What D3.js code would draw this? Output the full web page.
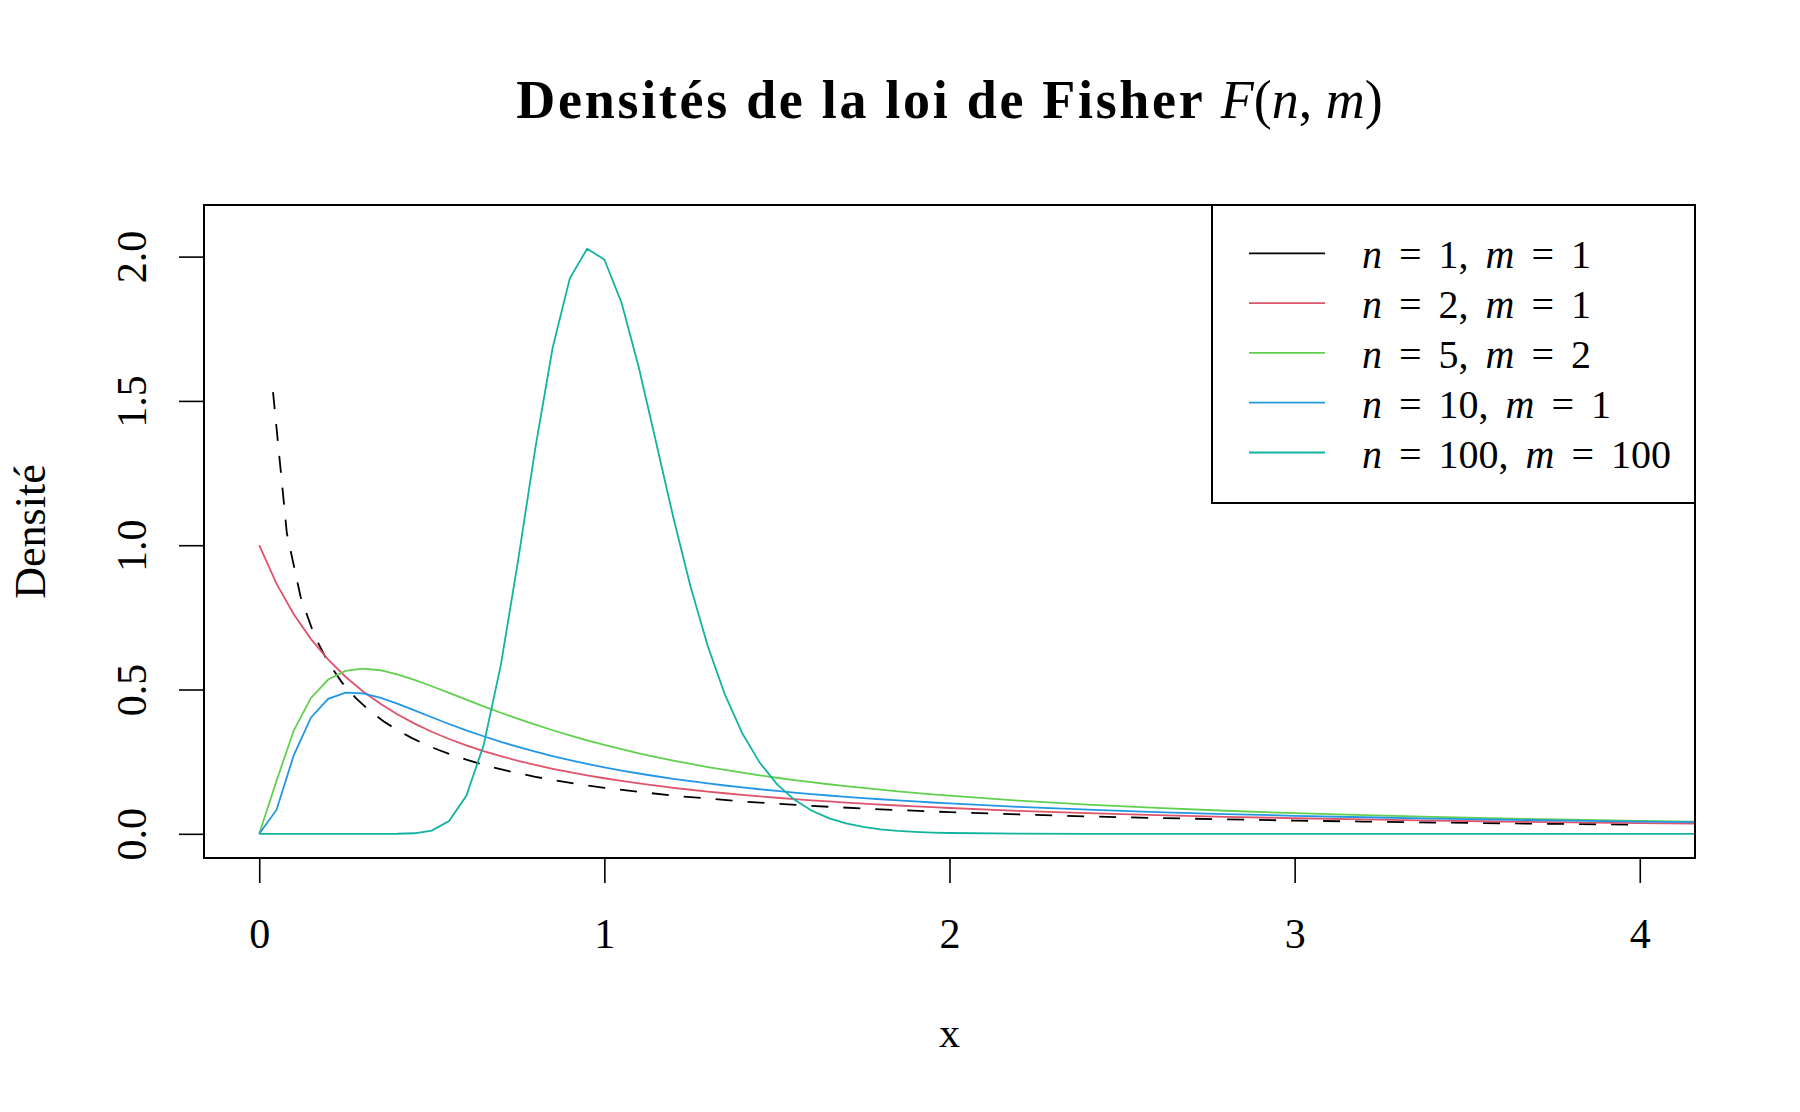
<!DOCTYPE html>
<html>
<head>
<meta charset="utf-8">
<script src="https://cdn.jsdelivr.net/npm/d3@7"></script>
<style>
  body { margin: 0; background: #fff; }
  text { font-family: "Liberation Serif", "DejaVu Serif", serif; fill: #000; }
</style>
</head>
<body>
<div id="chart"></div>
<script>
// grid used by the coloured curves (fine up to 2, coarser on the flat tails)
var xGrid = [0, 0.05, 0.1, 0.15, 0.2, 0.25, 0.3, 0.35, 0.4, 0.45, 0.5, 0.55, 0.6, 0.65, 0.7, 0.75,
  0.8, 0.85, 0.9, 0.95, 1.0, 1.05, 1.1, 1.15, 1.2, 1.25, 1.3, 1.35, 1.4, 1.45, 1.5, 1.55, 1.6,
  1.65, 1.7, 1.75, 1.8, 1.85, 1.9, 1.95, 2.0, 2.2, 2.4, 2.6, 2.8, 3.0, 3.2, 3.4, 3.6, 3.8, 4.0, 4.2];

var dens_2_1 = [1.0000, 0.8668, 0.7607, 0.6747, 0.6037, 0.5443, 0.4941, 0.4512, 0.4141, 0.3818,
  0.3536, 0.3286, 0.3065, 0.2867, 0.2690, 0.2530, 0.2385, 0.2254, 0.2134, 0.2025, 0.1925, 0.1832,
  0.1747, 0.1668, 0.1595, 0.1527, 0.1464, 0.1405, 0.1350, 0.1298, 0.1250, 0.1205, 0.1162, 0.1121,
  0.1083, 0.1048, 0.1014, 0.0981, 0.0951, 0.0922, 0.0894, 0.0797, 0.0716, 0.0648, 0.0590, 0.0540,
  0.0497, 0.0459, 0.0426, 0.0397, 0.0370, 0.0347];

var dens_5_2 = [0, 0.1829, 0.3578, 0.4708, 0.5346, 0.5646, 0.5725, 0.5668, 0.5524, 0.5331, 0.5112,
  0.4881, 0.4648, 0.4418, 0.4195, 0.3982, 0.3780, 0.3589, 0.3408, 0.3239, 0.3080, 0.2931, 0.2791,
  0.2660, 0.2537, 0.2422, 0.2314, 0.2212, 0.2117, 0.2027, 0.1943, 0.1864, 0.1789, 0.1718, 0.1652,
  0.1589, 0.1529, 0.1473, 0.1419, 0.1369, 0.1321, 0.1151, 0.1012, 0.0896, 0.0799, 0.0717, 0.0647,
  0.0586, 0.0534, 0.0488, 0.0448, 0.0412];

var dens_10_1 = [0, 0.0827, 0.2719, 0.4034, 0.4678, 0.4892, 0.4867, 0.4717, 0.4508, 0.4275, 0.4038,
  0.3806, 0.3586, 0.3380, 0.3188, 0.3010, 0.2845, 0.2693, 0.2553, 0.2423, 0.2304, 0.2193, 0.2090,
  0.1995, 0.1906, 0.1823, 0.1746, 0.1674, 0.1607, 0.1544, 0.1485, 0.1430, 0.1377, 0.1328, 0.1282,
  0.1238, 0.1197, 0.1158, 0.1121, 0.1085, 0.1052, 0.0934, 0.0836, 0.0754, 0.0685, 0.0625, 0.0574,
  0.0529, 0.0490, 0.0455, 0.0425, 0.0397];

var dens_100_100 = [0, 0, 0, 0, 0, 0, 0, 0, 0.0002, 0.0019, 0.0110, 0.0443, 0.1316, 0.3063, 0.5844,
  0.9463, 1.3366, 1.6834, 1.9246, 2.0269, 1.9900, 1.8395, 1.6149, 1.3557, 1.0952, 0.8554, 0.6490,
  0.4802, 0.3475, 0.2468, 0.1723, 0.1186, 0.0806, 0.0542, 0.0361, 0.0238, 0.0157, 0.0102, 0.0066,
  0.0043, 0.0028, 0.0005, 0, 0, 0, 0, 0, 0, 0, 0, 0, 0];

// F(1,1) is drawn on its own grid (starts at 0.04, stops at 4)
var xBlack = [0.04, 0.08, 0.12, 0.16, 0.2, 0.24, 0.28, 0.32, 0.36, 0.4, 0.44, 0.48, 0.52, 0.56,
  0.6, 0.64, 0.68, 0.72, 0.76, 0.8, 0.84, 0.88, 0.92, 0.96, 1.0, 1.2, 1.4, 1.6, 1.8, 2.0, 2.2, 2.4,
  2.6, 2.8, 3.0, 3.2, 3.4, 3.6, 3.8, 4.0];
var dens_1_1 = [1.5303, 1.0420, 0.8204, 0.6860, 0.5931, 0.5240, 0.4700, 0.4263, 0.3901, 0.3595,
  0.3332, 0.3104, 0.2904, 0.2727, 0.2568, 0.2426, 0.2298, 0.2181, 0.2075, 0.1977, 0.1888, 0.1805,
  0.1728, 0.1658, 0.1592, 0.1321, 0.1121, 0.0968, 0.0847, 0.0750, 0.0671, 0.0604, 0.0548, 0.0501,
  0.0459, 0.0424, 0.0392, 0.0365, 0.0340, 0.0318];

var legendN = [1, 2, 5, 10, 100];
var legendM = [1, 1, 2, 1, 100];
var colors = ["#000000", "#DF536B", "#61D04F", "#2297E6", "#10B4A0"];
var xTicks = [0, 1, 2, 3, 4];
var yTicks = [0, 0.5, 1, 1.5, 2];

var W = 1800, H = 1112;
var pLeft = 204, pRight = 1695, pTop = 205, pBottom = 858;

var svg = d3.select("#chart").append("svg")
    .attr("width", W)
    .attr("height", H);

// R style: xlim c(0,4), ylim c(0,2.095), both padded by 4%
var x = d3.scaleLinear().domain([-0.16, 4.16]).range([pLeft, pRight]);
var y = d3.scaleLinear().domain([-0.0838, 2.1788]).range([pBottom, pTop]);

svg.append("clipPath").attr("id", "plotclip")
  .append("rect")
    .attr("x", pLeft).attr("y", pTop)
    .attr("width", pRight - pLeft).attr("height", pBottom - pTop);

var line = d3.line()
    .x(function(d) { return x(d[0]); })
    .y(function(d) { return y(d[1]); });

var curves = svg.append("g").attr("clip-path", "url(#plotclip)");

curves.append("path")
    .attr("d", line(d3.zip(xBlack, dens_1_1)))
    .attr("fill", "none")
    .attr("stroke", colors[0])
    .attr("stroke-width", 1.8)
    .attr("stroke-dasharray", "17,15");

[dens_2_1, dens_5_2, dens_10_1, dens_100_100].forEach(function(s, i) {
  curves.append("path")
      .attr("d", line(d3.zip(xGrid, s)))
      .attr("fill", "none")
      .attr("stroke", colors[i + 1])
      .attr("stroke-width", 1.8);
});

// box
svg.append("rect")
    .attr("x", pLeft).attr("y", pTop)
    .attr("width", pRight - pLeft).attr("height", pBottom - pTop)
    .attr("fill", "none")
    .attr("stroke", "#000")
    .attr("stroke-width", 2);

// x axis
var gx = svg.append("g")
    .attr("transform", "translate(0," + pBottom + ")")
    .call(d3.axisBottom(x).tickValues(xTicks).tickSize(25).tickFormat(d3.format("d")));
gx.select(".domain").remove();
gx.selectAll(".tick line").attr("stroke-width", 1.6);
gx.selectAll(".tick text")
    .attr("y", 90).attr("dy", 0)
    .style("font-family", "Liberation Serif")
    .style("font-size", "42px");

// y axis
var gy = svg.append("g")
    .attr("transform", "translate(" + pLeft + ",0)")
    .call(d3.axisLeft(y).tickValues(yTicks).tickSize(25).tickFormat(d3.format(".1f")));
gy.select(".domain").remove();
gy.selectAll(".tick line").attr("stroke-width", 1.6);
gy.selectAll(".tick text")
    .attr("transform", "rotate(-90)")
    .attr("x", 0).attr("y", -58).attr("dy", 0)
    .attr("text-anchor", "middle")
    .style("font-family", "Liberation Serif")
    .style("font-size", "42px");

// axis titles
svg.append("text")
    .attr("x", (pLeft + pRight) / 2)
    .attr("y", 1047)
    .attr("text-anchor", "middle")
    .style("font-size", "42px")
    .text("x");

svg.append("text")
    .attr("transform", "translate(45," + ((pTop + pBottom) / 2) + ") rotate(-90)")
    .attr("text-anchor", "middle")
    .style("font-size", "44px")
    .text("Densité");

// title
var title = svg.append("text")
    .attr("x", (pLeft + pRight) / 2)
    .attr("y", 118)
    .attr("text-anchor", "middle")
    .style("font-size", "54px");
title.append("tspan").style("font-weight", "bold").style("letter-spacing", "2.7px")
    .text("Densités de la loi de Fisher ");
title.append("tspan").style("font-style", "italic").text("F");
title.append("tspan").text("(");
title.append("tspan").style("font-style", "italic").text("n");
title.append("tspan").text(", ");
title.append("tspan").style("font-style", "italic").text("m");
title.append("tspan").text(")");

// legend
var lg = svg.append("g");
lg.append("rect")
    .attr("x", 1212).attr("y", pTop)
    .attr("width", pRight - 1212).attr("height", 503 - pTop)
    .attr("fill", "#fff")
    .attr("stroke", "#000")
    .attr("stroke-width", 2);

legendN.forEach(function(n, i) {
  var yy = 253.3 + i * 49.8;
  lg.append("line")
      .attr("x1", 1249).attr("x2", 1325)
      .attr("y1", yy).attr("y2", yy)
      .attr("stroke", colors[i])
      .attr("stroke-width", 1.8);
  var t = lg.append("text")
      .attr("x", 1362)
      .attr("y", yy + 15)
      .style("font-size", "40px")
      .style("word-spacing", "7px");
  t.append("tspan").style("font-style", "italic").text("n");
  t.append("tspan").text(" = " + n + ", ");
  t.append("tspan").style("font-style", "italic").text("m");
  t.append("tspan").text(" = " + legendM[i]);
});
</script>
</body>
</html>
